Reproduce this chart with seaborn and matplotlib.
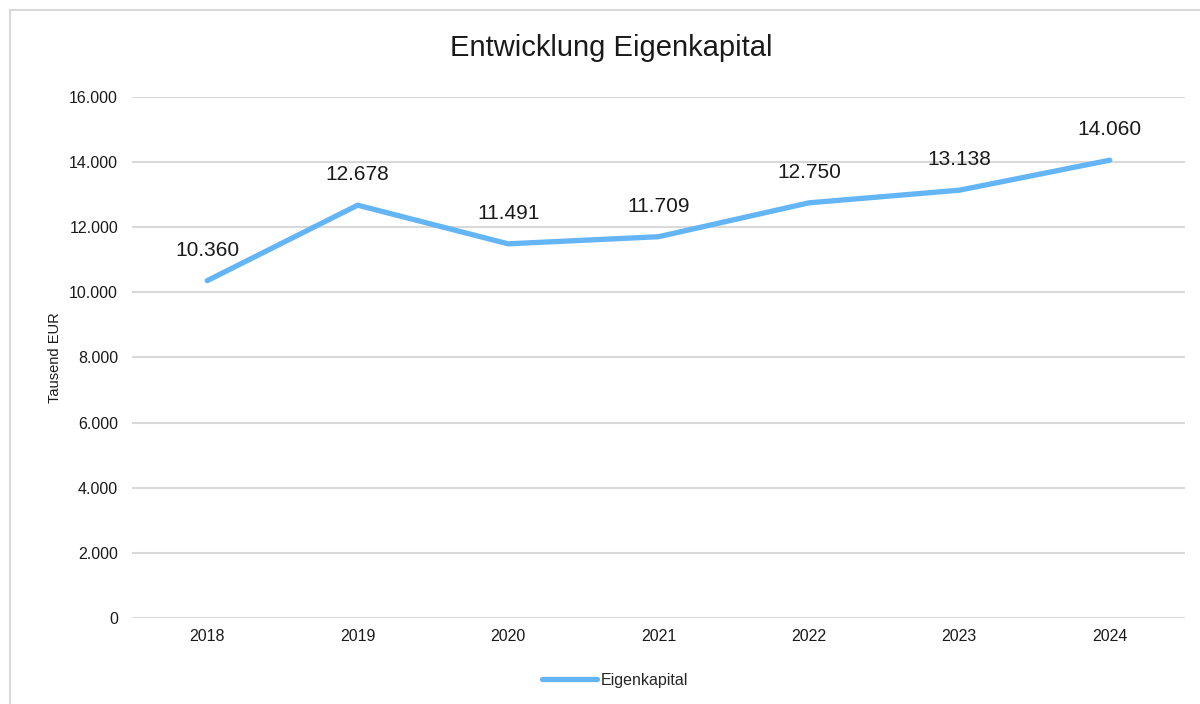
import matplotlib
matplotlib.use("Agg")
import matplotlib.pyplot as plt
import matplotlib.ticker as mticker
import pandas as pd
import seaborn as sns

# Daten (Tausend EUR)
years = ["2018", "2019", "2020", "2021", "2022", "2023", "2024"]
equity = [10360, 12678, 11491, 11709, 12750, 13138, 14060]

df = pd.DataFrame({"Jahr": years, "Eigenkapital": equity})

sns.set_theme(style="white")
plt.rcParams["font.family"] = ["Liberation Sans", "DejaVu Sans"]

line_color = "#64B5F6"
grid_color = "#d9d9d9"


def de_fmt(v, pos=None):
    return f"{v:,.0f}".replace(",", ".")


fig = plt.figure(figsize=(12, 7.04), dpi=100)
ax = fig.add_axes([0.11, 0.1222, 0.8775, 0.74])

sns.lineplot(data=df, x="Jahr", y="Eigenkapital", ax=ax, color=line_color,
             linewidth=3.8, solid_capstyle="round", label="Eigenkapital",
             sort=False)

# Datenbeschriftungen
for i, v in enumerate(equity):
    ax.annotate(de_fmt(v), (i, v), xytext=(0, 22), textcoords="offset points",
                ha="center", va="center", fontsize=15, color="#1a1a1a")

ax.set_ylim(0, 16000)
ax.set_xlim(-0.5, len(years) - 0.5)
ax.yaxis.set_major_locator(mticker.MultipleLocator(2000))
ax.yaxis.set_major_formatter(mticker.FuncFormatter(de_fmt))
ax.grid(axis="y", color=grid_color, linewidth=1.5)
ax.set_axisbelow(True)
for s in ax.spines.values():
    s.set_visible(False)
ax.tick_params(axis="both", length=0, labelsize=11.5, colors="#1a1a1a")
ax.tick_params(axis="y", pad=10)
ax.tick_params(axis="x", pad=8)
ax.set_xlabel("")
ax.set_ylabel("Tausend EUR", fontsize=10.5, color="#1a1a1a", labelpad=5)

fig.suptitle("Entwicklung Eigenkapital", x=0.509, y=0.932, fontsize=21,
             color="#1a1a1a", va="center")

leg = ax.legend(loc="center", bbox_to_anchor=(0.459, -0.12), frameon=False,
                fontsize=11.5, handlelength=3.4, handletextpad=0.25)

# Rahmen links/oben
fig.add_artist(plt.Line2D([10 / 1200, 10 / 1200], [0, 1 - 10 / 704],
                          transform=fig.transFigure, color=grid_color, linewidth=1.5))
fig.add_artist(plt.Line2D([10 / 1200, 1], [1 - 10 / 704, 1 - 10 / 704],
                          transform=fig.transFigure, color=grid_color, linewidth=1.5))

fig.savefig("out.png", dpi=100)
